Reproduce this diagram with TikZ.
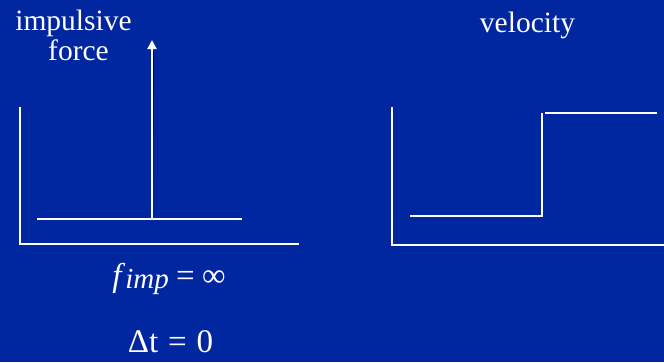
\documentclass[tikz,border=0pt]{standalone}
\usepackage{fontspec}
\setmainfont{Liberation Serif}
\newfontfamily\tms{Liberation Serif}
\usetikzlibrary{arrows.meta}
\definecolor{bgblue}{RGB}{0,38,160}
\tikzset{
  ln/.style={draw=white,line width=2pt},
  shd/.style={draw=black!70!bgblue,line width=2pt},
  lbl/.style={text=white,font=\tms\fontsize{29.5}{31}\selectfont,inner sep=0pt,anchor=base},
  eq/.style={text=white,font=\tms\fontsize{33}{35}\selectfont,inner sep=0pt,anchor=base}
}
\begin{document}
\begin{tikzpicture}[x=1pt,y=-1pt]
\fill[bgblue] (0,0) rectangle (664,362);
\useasboundingbox (0,0) rectangle (664,362);
% left chart coordinates
\coordinate (ly) at (20,107);
\coordinate (lo) at (20,244);
\coordinate (lx) at (299,244);
\coordinate (b1) at (37,219);
\coordinate (b2) at (242,219);
\coordinate (ab) at (152,219);
\coordinate (at) at (152,40);
% right chart coordinates
\coordinate (ry) at (392,107);
\coordinate (ro) at (392,245);
\coordinate (rx) at (664,245);
\coordinate (s1) at (410,216);
\coordinate (s2) at (542,216);
\coordinate (s3) at (542,113);
\coordinate (s4) at (545,113);
\coordinate (s5) at (657,113);
% shadows
\begin{scope}[shift={(1,1)}]
\draw[shd] (ly) -- (lo) -- (lx);
\draw[shd] (b1) -- (b2);
\draw[shd] (ab) -- (152,50);
\draw[shd] (ry) -- (ro) -- (rx);
\draw[shd] (s1) -- (s2) -- (s3);
\draw[shd] (s4) -- (s5);
\end{scope}
% lines
\draw[ln] (ly) -- (lo) -- (lx);
\draw[ln] (b1) -- (b2);
\draw[ln,-{Triangle[width=9pt,length=9pt]}] (ab) -- (at);
\draw[ln] (ry) -- (ro) -- (rx);
\draw[ln] (s1) -- (s2) -- (s3);
\draw[ln] (s4) -- (s5);
% texts
\node[lbl] (t1) at (73.5,30) {impulsive};
\node[lbl] (t1b) at (78.5,60) {force};
\node[lbl] (t2) at (527.5,32) {velocity};
\node[eq] (e1) at (169,286) {\textit{f}\raisebox{-2pt}{\fontsize{29}{30}\selectfont\textit{imp}}\hspace{0.22em}=\hspace{0.22em}∞};
\node[eq] (e2) at (170.5,352) {Δt\hspace{0.3em}=\hspace{0.3em}0};
\end{tikzpicture}
\end{document}
